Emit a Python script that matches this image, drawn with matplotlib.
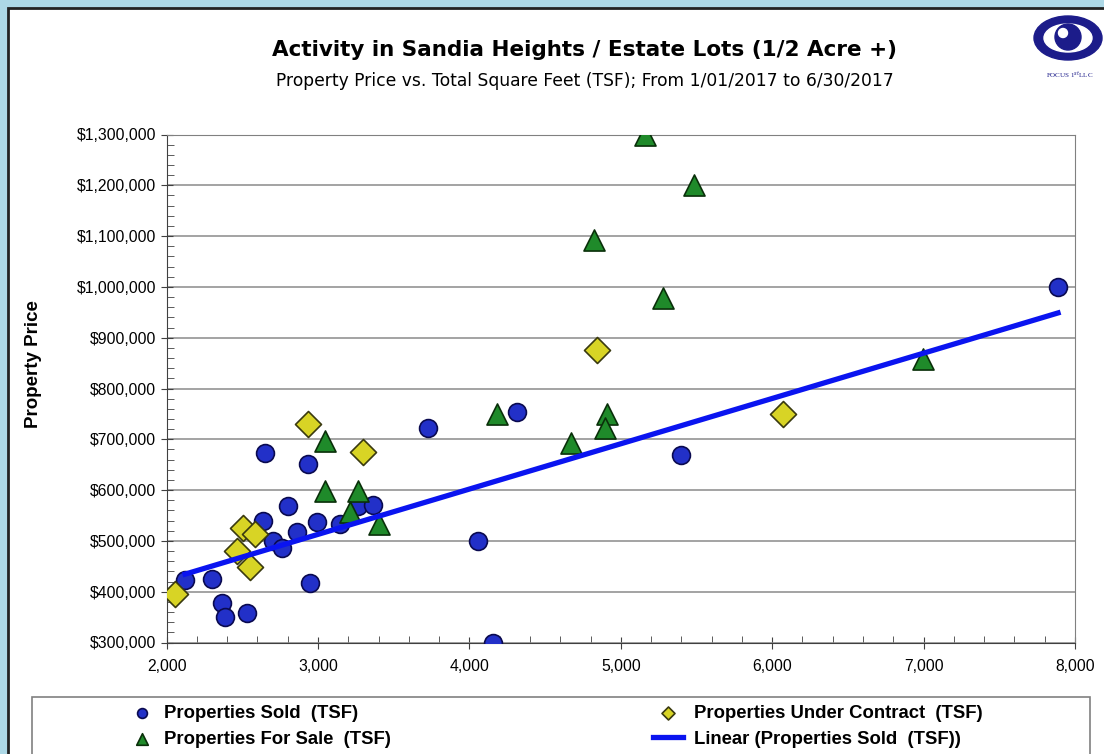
import numpy as np
import matplotlib.pyplot as plt
from matplotlib.patches import Rectangle, Ellipse, Circle
from matplotlib.ticker import FuncFormatter, MultipleLocator

plt.rcParams['font.family'] = ['Liberation Sans', 'DejaVu Sans']

# total square feet and price for each group of lots
sold_tsf = [2122, 2298, 2364, 2386, 2529, 2650, 2932, 3729, 2804, 2639, 2705, 2760,
            2859, 2991, 3145, 3266, 3365, 2947, 4156, 4057, 4314, 5398, 7888]
sold_price = [423000, 425000, 377000, 351000, 358000, 674000, 651000, 723000, 569000,
              540000, 500000, 487000, 517000, 538000, 534000, 569000, 571000, 418000,
              300000, 500000, 754000, 669000, 999000]

contract_tsf = [2055, 2936, 3299, 2507, 2584, 2467, 2551, 4841, 6073]
contract_price = [396000, 730000, 675000, 526000, 514000, 481000, 448000, 875000, 750000]

forsale_tsf = [5160, 5486, 4823, 5279, 4180, 4907, 4896, 4669, 6994,
               3046, 3046, 3266, 3211, 3405]
forsale_price = [1300000, 1200000, 1093000, 978000, 749000, 749000, 723000, 693000, 859000,
                 697000, 599000, 599000, 556000, 533000]

title = 'Activity in Sandia Heights / Estate Lots (1/2 Acre +)'
subtitle = 'Property Price vs. Total Square Feet (TSF); From 1/01/2017 to 6/30/2017'

W, H = 1104, 754
fig = plt.figure(figsize=(W / 100, H / 100), dpi=100)
fig.patch.set_facecolor('#add8e6')

# white page with dark border
page = Rectangle((8 / W, -0.1), 1, 1.1 - 8 / H, transform=fig.transFigure,
                 facecolor='white', edgecolor='#222222', lw=2, zorder=-3)
fig.patches.append(page)

ax = fig.add_axes([166.6 / W, 1 - 642.5 / H, (1075 - 166.6) / W, (642.5 - 134.5) / H])
ax.set_xlim(2000, 8000)
ax.set_ylim(300000, 1300000)

ax.set_yticks(np.arange(300000, 1300001, 100000))
ax.yaxis.set_minor_locator(MultipleLocator(20000))
ax.xaxis.set_major_locator(MultipleLocator(1000))
ax.xaxis.set_minor_locator(MultipleLocator(200))
ax.yaxis.set_major_formatter(FuncFormatter(lambda v, p: '${:,.0f}'.format(v)))
ax.xaxis.set_major_formatter(FuncFormatter(lambda v, p: '{:,.0f}'.format(v)))
ax.tick_params(which='major', direction='inout', length=8, labelsize=11.3, color='#404040')
ax.tick_params(which='minor', direction='in', length=5, color='#404040')
ax.tick_params(axis='x', pad=8)
ax.grid(axis='y', which='major', color='#8a8a8a', lw=1.1)
ax.set_axisbelow(True)
for s in ax.spines.values():
    s.set_color('#808080')
ax.spines['left'].set_color('#404040')
ax.spines['bottom'].set_color('#404040')

fig.text(33 / W, 1 - 364 / H, 'Property Price', rotation=90, ha='center', va='center',
         fontsize=13.5, fontweight='bold')

sold = ax.scatter(sold_tsf, sold_price, s=165, marker='o', color='#2230c8',
                  edgecolor='#0a0a50', linewidth=1.2, zorder=3, label='Properties Sold  (TSF)')
contract = ax.scatter(contract_tsf, contract_price, s=175, marker='D', color='#d8d425',
                      edgecolor='#3a3a10', linewidth=1.2, zorder=4,
                      label='Properties Under Contract  (TSF)')
forsale = ax.scatter(forsale_tsf, forsale_price, s=230, marker='^', color='#1f8a2a',
                     edgecolor='#0a300a', linewidth=1.2, zorder=5,
                     label='Properties For Sale  (TSF)')

# least squares trend of the sold lots
k, b = np.polyfit(sold_tsf, sold_price, 1)
tx = np.array([min(sold_tsf), max(sold_tsf)])
trend, = ax.plot(tx, k * tx + b, color='#0a14f0', lw=3.8, zorder=6,
                 label='Linear (Properties Sold  (TSF))')

fig.text(585 / W, 1 - 50 / H, title, ha='center', va='center', fontsize=15.5,
         fontweight='bold', family='DejaVu Sans')
fig.text(585 / W, 1 - 81 / H, subtitle, ha='center', va='center', fontsize=12.3,
         family='DejaVu Sans')

# legend box along the bottom
box = Rectangle((32 / W, -0.05), (1090 - 32) / W, 0.05 + (754 - 697) / H,
                transform=fig.transFigure, facecolor='white',
                edgecolor='#808080', lw=1.2, zorder=-2)
fig.patches.append(box)
leg_kw = dict(frameon=False, prop={'weight': 'bold', 'size': 13.3},
              labelspacing=0.45, borderpad=0, handletextpad=0.6, loc='upper left')
l1 = fig.legend(handles=[sold, forsale], bbox_to_anchor=(122 / W, 1 - 696 / H),
                handlelength=1.2, scatterpoints=1, markerscale=0.55, **leg_kw)
l2 = fig.legend(handles=[contract, trend], bbox_to_anchor=(644 / W, 1 - 696 / H),
                handlelength=1.6, scatterpoints=1, markerscale=0.5, **leg_kw)

# company logo
lax = fig.add_axes([1030 / W, 1 - 80 / H, 74 / W, 70 / H])
lax.set_xlim(1030, 1104)
lax.set_ylim(80, 10)
lax.axis('off')
lax.add_patch(Ellipse((1068, 38), 68, 44, color='#1c1c8a'))
lax.add_patch(Ellipse((1068, 38), 48, 28, color='white'))
lax.add_patch(Circle((1068, 37), 13, color='#1c1c8a'))
lax.add_patch(Circle((1063, 33), 4.5, color='white'))
lax.text(1070, 74, 'FOCUS 1$^{st}$LLC', ha='center', va='center', fontsize=5,
         family='Liberation Serif', color='#1c1c8a')

fig.savefig('out.png', dpi=100, facecolor=fig.get_facecolor())
